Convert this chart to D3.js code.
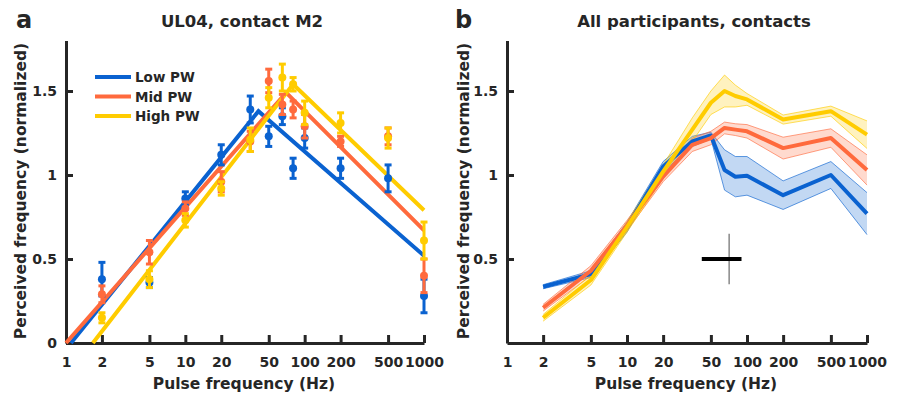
<!DOCTYPE html>
<html>
<head>
<meta charset="utf-8">
<script src="https://cdn.jsdelivr.net/npm/d3@7"></script>
<style>
  body { margin: 0; background: #fff; }
  text { font-family: "DejaVu Sans", Verdana, sans-serif; font-weight: bold; fill: #262626; }
</style>
</head>
<body>
<div id="chart"></div>
<script>
// Pulse frequencies (Hz) used in both panels
const freqs = [2, 5, 10, 20, 35, 50, 65, 80, 100, 200, 500, 1000];
const xTicks = [1, 2, 5, 10, 20, 50, 100, 200, 500, 1000];

// Panel a: single contact, mean +/- error
const lowA  = [0.38, 0.36, 0.86, 1.12, 1.39, 1.23, 1.35, 1.04, 1.22, 1.04, 0.98, 0.28];
const lowAErr  = [0.10, 0.03, 0.04, 0.06, 0.08, 0.06, 0.05, 0.06, 0.06, 0.06, 0.08, 0.10];
const midA  = [0.29, 0.54, 0.80, 0.96, 1.20, 1.56, 1.42, 1.39, 1.29, 1.20, 1.23, 0.40];
const midAErr  = [0.05, 0.07, 0.04, 0.06, 0.06, 0.07, 0.06, 0.05, 0.07, 0.03, 0.05, 0.10];
const highA = [0.15, 0.38, 0.73, 0.92, 1.21, 1.46, 1.58, 1.54, 1.37, 1.31, 1.22, 0.61];
const highAErr = [0.03, 0.05, 0.04, 0.04, 0.07, 0.06, 0.08, 0.04, 0.07, 0.06, 0.06, 0.11];

// Panel a: piecewise fits [freq, value]
const fitLow  = [[1.1, 0], [41, 1.38], [1000, 0.52]];
const fitMid  = [[1, 0], [70, 1.49], [1000, 0.67]];
const fitHigh = [[1.68, 0], [80, 1.54], [1000, 0.79]];

// Panel b: all participants, mean +/- sem
const lowB  = [0.335, 0.41, 0.69, 1.05, 1.20, 1.235, 1.03, 0.99, 0.995, 0.88, 1.00, 0.77];
const lowBSe  = [0.012, 0.02, 0.03, 0.03, 0.03, 0.02, 0.12, 0.12, 0.115, 0.085, 0.08, 0.125];
const midB  = [0.21, 0.43, 0.70, 0.99, 1.18, 1.22, 1.28, 1.27, 1.26, 1.16, 1.22, 1.03];
const midBSe  = [0.02, 0.03, 0.03, 0.03, 0.04, 0.04, 0.035, 0.035, 0.04, 0.065, 0.055, 0.09];
const highB = [0.15, 0.375, 0.69, 1.02, 1.27, 1.43, 1.50, 1.47, 1.45, 1.33, 1.38, 1.24];
const highBSe = [0.02, 0.03, 0.03, 0.04, 0.07, 0.07, 0.095, 0.065, 0.035, 0.027, 0.03, 0.082];

// Cross marker in panel b
const crossH = [42, 90];   // horizontal bar, Hz
const crossHy = 0.5;
const crossV = 71;         // vertical bar, Hz
const crossVy = [0.35, 0.65];

const names = ["Low PW", "Mid PW", "High PW"];
const colors = ["#0a62d0", "#ff6a3d", "#ffcc00"];
const axisColor = "#262626";

const W = 898, H = 397;
const svg = d3.select("#chart").append("svg")
    .attr("width", W).attr("height", H);

const y = d3.scaleLinear().domain([0, 1.8]).range([343, 40.6]);
const xA = d3.scaleLog().domain([1, 1000]).range([66, 424]);
const xB = d3.scaleLog().domain([1, 1000]).range([507, 867]);

function drawAxes(x, yTicks, title, titleX, letter, letterX, ylabX) {
    const gx = svg.append("g")
        .attr("transform", `translate(0,${y(0)})`)
        .call(d3.axisBottom(x).tickValues(xTicks).tickFormat(d3.format("d"))
            .tickSizeInner(-8).tickSizeOuter(0).tickPadding(14));
    const gy = svg.append("g")
        .attr("transform", `translate(${x(1)},0)`)
        .call(d3.axisLeft(y).tickValues(yTicks).tickFormat(d => d3.format("")(d))
            .tickSizeInner(-7).tickSizeOuter(0).tickPadding(9));
    [gx, gy].forEach(g => {
        g.select(".domain").attr("stroke", axisColor).attr("stroke-width", 3);
        g.selectAll(".tick line").attr("stroke", axisColor).attr("stroke-width", 3);
        g.selectAll(".tick text").style("font-size", "14px")
            .style("font-family", "'DejaVu Sans', Verdana, sans-serif")
            .style("font-weight", "bold").attr("fill", axisColor);
    });

    const cx = (x.range()[0] + x.range()[1]) / 2;
    svg.append("text").attr("x", cx - 1).attr("y", 389)
        .attr("text-anchor", "middle").style("font-size", "15.5px")
        .text("Pulse frequency (Hz)");
    svg.append("text")
        .attr("transform", `translate(${ylabX},191) rotate(-90)`)
        .attr("text-anchor", "middle").style("font-size", "15.5px")
        .text("Perceived frequency (normalized)");
    svg.append("text").attr("x", titleX).attr("y", 27)
        .attr("text-anchor", "middle").style("font-size", "16.5px")
        .text(title);
    svg.append("text").attr("x", letterX).attr("y", 28)
        .style("font-size", "24px").text(letter);
}

drawAxes(xA, [0, 0.5, 1, 1.5], "UL04, contact M2", 242, "a", 16, 26);
drawAxes(xB, [0.5, 1, 1.5], "All participants, contacts", 694, "b", 455, 469);

// ---- Panel a ----
const fitLine = d3.line().x(d => xA(d[0])).y(d => y(d[1]));
[fitLow, fitMid, fitHigh].forEach((f, i) => {
    svg.append("path").attr("d", fitLine(f))
        .attr("fill", "none").attr("stroke", colors[i]).attr("stroke-width", 4);
});

[[lowA, lowAErr], [midA, midAErr], [highA, highAErr]].forEach(([m, e], i) => {
    const pts = freqs.map((f, j) => ({ f: f, v: m[j], e: e[j] }));
    const g = svg.append("g").attr("stroke", colors[i]).attr("fill", colors[i]);
    g.selectAll(".eb").data(pts).enter().append("line")
        .attr("x1", d => xA(d.f)).attr("x2", d => xA(d.f))
        .attr("y1", d => y(d.v - d.e)).attr("y2", d => y(d.v + d.e))
        .attr("stroke-width", 3);
    g.selectAll(".capT").data(pts).enter().append("line")
        .attr("x1", d => xA(d.f) - 3.5).attr("x2", d => xA(d.f) + 3.5)
        .attr("y1", d => y(d.v + d.e)).attr("y2", d => y(d.v + d.e))
        .attr("stroke-width", 3);
    g.selectAll(".capB").data(pts).enter().append("line")
        .attr("x1", d => xA(d.f) - 3.5).attr("x2", d => xA(d.f) + 3.5)
        .attr("y1", d => y(d.v - d.e)).attr("y2", d => y(d.v - d.e))
        .attr("stroke-width", 3);
    g.selectAll("circle").data(pts).enter().append("circle")
        .attr("cx", d => xA(d.f)).attr("cy", d => y(d.v)).attr("r", 4)
        .attr("stroke", "none");
});

// Legend
names.forEach((n, i) => {
    const ly = 77 + i * 19.5;
    svg.append("line").attr("x1", 95).attr("x2", 131).attr("y1", ly).attr("y2", ly)
        .attr("stroke", colors[i]).attr("stroke-width", 4);
    svg.append("text").attr("x", 135).attr("y", ly + 5)
        .style("font-size", "13.5px").text(n);
});

// ---- Panel b ----
const series = [[lowB, lowBSe], [midB, midBSe], [highB, highBSe]];
const area = d3.area().x(d => xB(d.f)).y0(d => y(d.v - d.e)).y1(d => y(d.v + d.e));
const meanLine = d3.line().x(d => xB(d.f)).y(d => y(d.v));
const bandUp = d3.line().x(d => xB(d.f)).y(d => y(d.v + d.e));
const bandDn = d3.line().x(d => xB(d.f)).y(d => y(d.v - d.e));

series.forEach(([m, e], i) => {
    const pts = freqs.map((f, j) => ({ f: f, v: m[j], e: e[j] }));
    svg.append("path").attr("d", area(pts))
        .attr("fill", colors[i]).attr("fill-opacity", 0.25).attr("stroke", "none");
    [bandUp, bandDn].forEach(l => {
        svg.append("path").attr("d", l(pts)).attr("fill", "none")
            .attr("stroke", colors[i]).attr("stroke-width", 0.8).attr("stroke-opacity", 0.8);
    });
});
series.forEach(([m, e], i) => {
    const pts = freqs.map((f, j) => ({ f: f, v: m[j], e: e[j] }));
    svg.append("path").attr("d", meanLine(pts)).attr("fill", "none")
        .attr("stroke", colors[i]).attr("stroke-width", 4).attr("stroke-linejoin", "round");
});

// Cross marker
svg.append("line")
    .attr("x1", xB(crossV)).attr("x2", xB(crossV))
    .attr("y1", y(crossVy[0])).attr("y2", y(crossVy[1]))
    .attr("stroke", "#888").attr("stroke-width", 1.5);
svg.append("line")
    .attr("x1", xB(crossH[0])).attr("x2", xB(crossH[1]))
    .attr("y1", y(crossHy)).attr("y2", y(crossHy))
    .attr("stroke", "#000").attr("stroke-width", 4);
</script>
</body>
</html>
